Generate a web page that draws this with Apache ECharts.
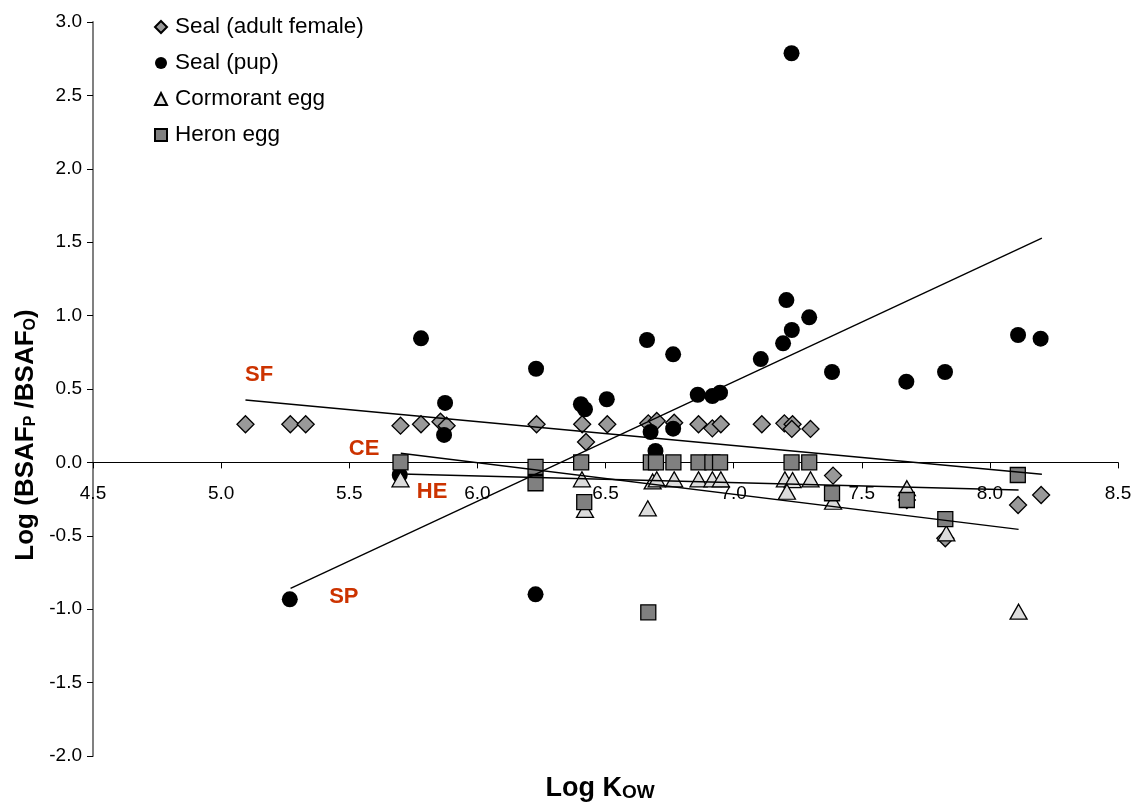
<!DOCTYPE html>
<html>
<head>
<meta charset="utf-8">
<script src="https://cdn.jsdelivr.net/npm/echarts@6/dist/echarts.min.js"></script>
<style>
  html, body { margin: 0; padding: 0; background: #fff; }
  #chart { width: 1136px; height: 803px; }
</style>
</head>
<body>
<div id="chart"></div>
<script>
// Log Kow (x) vs Log(BSAF_P / BSAF_O) (y)
const sealAdultFemale = [
  [5.095, 0.26], [5.27, 0.26], [5.33, 0.26], [5.70, 0.25], [5.78, 0.26],
  [5.856, 0.277], [5.88, 0.25], [6.231, 0.26], [6.409, 0.26], [6.424, 0.139],
  [6.507, 0.26], [6.667, 0.266], [6.70, 0.282], [6.768, 0.27], [6.863, 0.26],
  [6.917, 0.232], [6.95, 0.26], [7.11, 0.26], [7.198, 0.266], [7.23, 0.26],
  [7.227, 0.228], [7.30, 0.228], [7.388, -0.09], [7.676, -0.256], [7.826, -0.517],
  [8.11, -0.29], [8.20, -0.222]
];
const sealPup = [
  [5.268, -0.933], [5.697, -0.086], [5.78, 0.845], [5.874, 0.405], [5.87, 0.187],
  [6.229, 0.638], [6.227, -0.899], [6.404, 0.396], [6.42, 0.362], [6.505, 0.43],
  [6.662, 0.834], [6.676, 0.207], [6.695, 0.078], [6.764, 0.736], [6.764, 0.23],
  [6.86, 0.461], [6.917, 0.452], [6.947, 0.475], [7.106, 0.704], [7.193, 0.811],
  [7.206, 1.106], [7.227, 0.902], [7.226, 2.787], [7.295, 0.988], [7.384, 0.616],
  [7.674, 0.55], [7.825, 0.616], [8.11, 0.868], [8.198, 0.843]
];
const cormorantEgg = [
  [5.70, -0.115], [6.408, -0.115], [6.42, -0.324], [6.665, -0.313], [6.684, -0.13],
  [6.70, -0.115], [6.768, -0.115], [6.863, -0.115], [6.917, -0.115], [6.95, -0.115],
  [7.20, -0.115], [7.23, -0.12], [7.30, -0.115], [7.208, -0.2], [7.388, -0.268],
  [7.676, -0.176], [7.83, -0.483], [8.112, -1.017]
];
const heronEgg = [
  [5.70, 0.0], [6.227, -0.03], [6.227, -0.142], [6.405, 0.0], [6.417, -0.27],
  [6.667, -1.021], [6.677, 0.0], [6.697, 0.0], [6.765, 0.0], [6.863, 0.0],
  [6.917, 0.0], [6.947, 0.0], [7.226, 0.0], [7.295, 0.0], [7.384, -0.21],
  [7.676, -0.256], [7.826, -0.386], [8.109, -0.086]
];

// Regression lines (end points)
const trendSF = [[5.095, 0.425], [8.203, -0.081]];
const trendCE = [[5.701, 0.062], [8.112, -0.456]];
const trendHE = [[5.704, -0.079], [8.112, -0.188]];
const trendSP = [[5.271, -0.858], [8.203, 1.527]];

// Line tags and where they sit
const lineTags = [
  { name: 'SF', value: [5.148, 0.597] },
  { name: 'CE', value: [5.558, 0.089] },
  { name: 'HE', value: [5.823, -0.20] },
  { name: 'SP', value: [5.479, -0.915] }
];

const xTicks = { min: 4.5, max: 8.5, step: 0.5 };
const yTicks = { min: -2.0, max: 3.0, step: 0.5 };

const FONT = '"Liberation Sans", Arial, Helvetica, sans-serif';
const seriesNames = ['Seal (adult female)', 'Seal (pup)', 'Cormorant egg', 'Heron egg'];

const GRID = { left: 93, right: 18, top: 22, bottom: 47 };
const CHART_H = 803;
const gridHeight = CHART_H - GRID.top - GRID.bottom;
// the x axis crosses at y = 0, so lift it from the grid bottom by that share of the height
const xAxisLift = gridHeight * (0 - yTicks.min) / (yTicks.max - yTicks.min);

const chart = echarts.init(document.getElementById('chart'), null, { renderer: 'canvas' });

function trendSeries(data) {
  return {
    type: 'line',
    data: data,
    symbol: 'none',
    silent: true,
    z: 5,
    lineStyle: { color: '#000', width: 1.4, opacity: 1 },
    animation: false
  };
}

const option = {
  animation: false,
  backgroundColor: '#fff',
  textStyle: { fontFamily: FONT },
  grid: Object.assign({ containLabel: false }, GRID),
  legend: {
    data: seriesNames,
    orient: 'vertical',
    left: 149,
    top: 10,
    itemWidth: 12,
    itemHeight: 12,
    itemGap: 12,
    textStyle: { fontFamily: FONT, fontSize: 22.5, color: '#000', lineHeight: 24, padding: [0, 0, 0, 3] }
  },
  xAxis: {
    type: 'value',
    min: xTicks.min,
    max: xTicks.max,
    interval: xTicks.step,
    offset: -xAxisLift,
    axisLine: { onZero: false, lineStyle: { color: '#000', width: 1 } },
    axisTick: { show: true, inside: false, length: 6, lineStyle: { color: '#000', width: 1 } },
    axisLabel: {
      margin: 22, color: '#000', fontSize: 19, fontFamily: FONT,
      formatter: v => v.toFixed(1)
    },
    splitLine: { show: false }
  },
  yAxis: {
    type: 'value',
    min: yTicks.min,
    max: yTicks.max,
    interval: yTicks.step,
    axisLine: { onZero: false, show: true, lineStyle: { color: '#808080', width: 2 } },
    axisTick: { show: true, inside: false, length: 6, lineStyle: { color: '#000', width: 1 } },
    axisLabel: {
      margin: 11, color: '#000', fontSize: 19, fontFamily: FONT,
      formatter: v => v.toFixed(1)
    },
    splitLine: { show: false }
  },
  series: [
    {
      name: seriesNames[0], type: 'scatter', data: sealAdultFemale,
      symbol: 'diamond', symbolSize: 17, z: 2,
      itemStyle: { color: '#999999', borderColor: '#000', borderWidth: 1.3, opacity: 1 }
    },
    {
      name: seriesNames[1], type: 'scatter', data: sealPup,
      symbol: 'circle', symbolSize: 16, z: 3,
      itemStyle: { color: '#000', borderColor: '#000', borderWidth: 0, opacity: 1 }
    },
    {
      name: seriesNames[2], type: 'scatter', data: cormorantEgg,
      symbol: 'triangle', symbolSize: [17, 15], z: 3,
      itemStyle: { color: '#dcdcdc', borderColor: '#000', borderWidth: 1.3, opacity: 1 }
    },
    {
      name: seriesNames[3], type: 'scatter', data: heronEgg,
      symbol: 'rect', symbolSize: 15, z: 4,
      itemStyle: { color: '#808080', borderColor: '#000', borderWidth: 1.3, opacity: 1 }
    },
    trendSeries(trendSF),
    trendSeries(trendCE),
    trendSeries(trendHE),
    trendSeries(trendSP),
    {
      type: 'scatter',
      data: lineTags,
      symbolSize: 0,
      silent: true,
      z: 6,
      itemStyle: { opacity: 1 },
      label: {
        show: true, position: 'inside',
        formatter: p => p.name,
        color: '#cc3300', opacity: 1, fontSize: 22, fontWeight: 'bold', fontFamily: FONT
      }
    }
  ],
  graphic: [
    {
      type: 'text',
      x: 24, y: 435,
      rotation: Math.PI / 2,
      style: {
        text: '{b|Log (BSAF}{s|P}{b| /BSAF}{s|O}{b|)}',
        align: 'center',
        verticalAlign: 'middle',
        fill: '#000',
        rich: {
          b: { fontFamily: FONT, fontSize: 26, fontWeight: 'bold', lineHeight: 30, verticalAlign: 'bottom' },
          s: { fontFamily: FONT, fontSize: 16, fontWeight: 'bold', lineHeight: 10, verticalAlign: 'bottom' }
        }
      }
    },
    {
      type: 'text',
      x: 600, y: 787,
      style: {
        text: '{b|Log K}{s|OW}',
        align: 'center',
        verticalAlign: 'middle',
        fill: '#000',
        rich: {
          b: { fontFamily: FONT, fontSize: 27, fontWeight: 'bold', lineHeight: 30, verticalAlign: 'bottom' },
          s: { fontFamily: FONT, fontSize: 19, fontWeight: 'bold', lineHeight: 23, verticalAlign: 'bottom' }
        }
      }
    }
  ]
};

chart.setOption(option);
</script>
</body>
</html>
